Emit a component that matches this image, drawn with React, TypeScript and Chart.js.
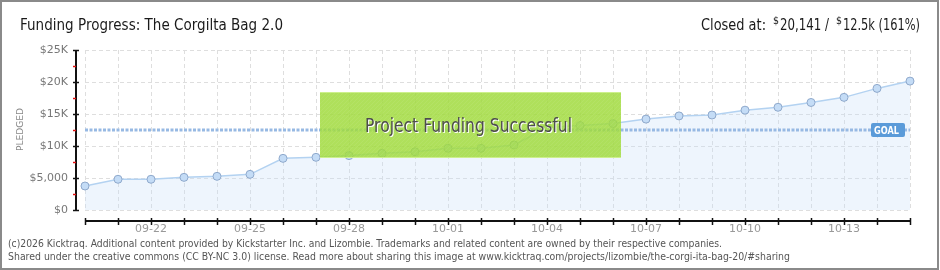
import React, { useEffect, useRef } from 'react';
import { Chart, registerables } from 'chart.js';

Chart.register(...registerables);

// ---- data ----
const dates = [
  '09-20', '09-21', '09-22', '09-23', '09-24', '09-25', '09-26', '09-27', '09-28', '09-29', '09-30',
  '10-01', '10-02', '10-03', '10-04', '10-05', '10-06', '10-07', '10-08', '10-09', '10-10',
  '10-11', '10-12', '10-13', '10-14', '10-15',
];
const pledged = [
  3750, 4800, 4800, 5100, 5260, 5570, 8070, 8230, 8500, 8850, 9100,
  9640, 9640, 10160, 12900, 13200, 13500, 14200, 14700, 14840, 15600,
  16050, 16800, 17600, 19000, 20141,
];
const yTickValues = [0, 5000, 10000, 15000, 20000, 25000];
const yTickLabels = ['$0', '$5,000', '$10K', '$15K', '$20K', '$25K'];
const goal = 12500;
const titleText = 'Funding Progress: The Corgilta Bag 2.0';
const closedLabel = 'Closed at:';
const closedValue = '20,141 /';
const goalValue = '12.5k (161%)';
const successText = 'Project Funding Successful';
const yAxisTitle = 'PLEDGED';
const goalLabel = 'GOAL';
const footer1 =
  '(c)2026 Kicktraq. Additional content provided by Kickstarter Inc. and Lizombie. Trademarks and related content are owned by their respective companies.';
const footer2 =
  'Shared under the creative commons (CC BY-NC 3.0) license. Read more about sharing this image at www.kicktraq.com/projects/lizombie/the-corgi-ita-bag-20/#sharing';

const FONT = '"DejaVu Sans", "Noto Sans", sans-serif';

function fitText(ctx: CanvasRenderingContext2D, text: string, x: number, y: number, w: number) {
  const m = ctx.measureText(text).width;
  const s = m > 0 ? w / m : 1;
  ctx.save();
  ctx.translate(x, y);
  ctx.scale(s, 1);
  ctx.textAlign = 'left';
  ctx.fillText(text, 0, 0);
  ctx.restore();
}

export default function App() {
  const ref = useRef<HTMLCanvasElement>(null);

  useEffect(() => {
    const canvas = ref.current!;

    const bgPlugin = {
      id: 'bg',
      beforeDraw(chart: any) {
        const ctx = chart.ctx as CanvasRenderingContext2D;
        ctx.save();
        ctx.fillStyle = '#ffffff';
        ctx.fillRect(0, 0, chart.width, chart.height);
        ctx.restore();
      },
    };

    const overlay = {
      id: 'overlay',
      afterDraw(chart: any) {
        const ctx = chart.ctx as CanvasRenderingContext2D;
        const ys = chart.scales.y;
        const xs = chart.scales.x;
        const { left, right } = chart.chartArea;
        ctx.save();

        // ---- y axis (offset) ----
        const ax = left - 9;
        const yTop = ys.getPixelForValue(25000);
        const yBot = ys.getPixelForValue(0);
        ctx.strokeStyle = '#111';
        ctx.lineWidth = 2;
        ctx.beginPath();
        ctx.moveTo(ax, yTop);
        ctx.lineTo(ax, yBot);
        ctx.stroke();
        ctx.lineWidth = 1.5;
        for (const v of yTickValues) {
          const py = Math.round(ys.getPixelForValue(v)) + 0.5;
          ctx.beginPath();
          ctx.moveTo(ax - 3, py);
          ctx.lineTo(ax + 3, py);
          ctx.stroke();
        }
        ctx.strokeStyle = '#e01010';
        for (let i = 0; i < yTickValues.length - 1; i++) {
          const v = (yTickValues[i] + yTickValues[i + 1]) / 2;
          const py = Math.round(ys.getPixelForValue(v)) + 0.5;
          ctx.beginPath();
          ctx.moveTo(ax - 3, py);
          ctx.lineTo(ax, py);
          ctx.stroke();
        }

        // ---- x axis (offset) ----
        const ay = yBot + 11;
        ctx.strokeStyle = '#111';
        ctx.lineWidth = 2;
        ctx.beginPath();
        ctx.moveTo(xs.getPixelForValue(0), ay);
        ctx.lineTo(xs.getPixelForValue(dates.length - 1), ay);
        ctx.stroke();
        ctx.lineWidth = 1.5;
        for (let i = 0; i < dates.length; i++) {
          const px = Math.round(xs.getPixelForValue(i)) + 0.5;
          ctx.beginPath();
          ctx.moveTo(px, ay - 3);
          ctx.lineTo(px, ay + 4);
          ctx.stroke();
        }

        // ---- y axis title ----
        ctx.fillStyle = '#888';
        ctx.font = `9px ${FONT}`;
        ctx.save();
        ctx.translate(23, 151);
        ctx.rotate(-Math.PI / 2);
        ctx.textBaseline = 'alphabetic';
        fitText(ctx, yAxisTitle, 0, 0, 43);
        ctx.restore();

        // ---- goal line ----
        const gy = ys.getPixelForValue(goal);
        ctx.strokeStyle = '#97b9e3';
        ctx.lineWidth = 3;
        ctx.setLineDash([3, 1.5]);
        ctx.beginPath();
        ctx.moveTo(left, gy);
        ctx.lineTo(right, gy);
        ctx.stroke();
        ctx.setLineDash([]);

        // goal label
        const gx1 = right - 39;
        const gx2 = right - 5;
        ctx.fillStyle = '#5b9bd9';
        ctx.beginPath();
        (ctx as any).roundRect(gx1, gy - 7, gx2 - gx1, 14, 2);
        ctx.fill();
        ctx.fillStyle = '#ffffff';
        ctx.font = `bold 10px ${FONT}`;
        ctx.textBaseline = 'alphabetic';
        fitText(ctx, goalLabel, gx1 + 3, gy + 4, 25);

        // ---- success box ----
        const bx = 320, by = 92, bw = 301, bh = 66;
        ctx.fillStyle = 'rgba(160,218,60,0.84)';
        ctx.fillRect(bx, by, bw, bh);
        ctx.save();
        ctx.beginPath();
        ctx.rect(bx, by, bw, bh);
        ctx.clip();
        ctx.strokeStyle = 'rgba(255,255,255,0.07)';
        ctx.lineWidth = 1;
        for (let d = -bh; d < bw; d += 4) {
          ctx.beginPath();
          ctx.moveTo(bx + d, by + bh);
          ctx.lineTo(bx + d + bh, by);
          ctx.stroke();
        }
        ctx.restore();
        ctx.strokeStyle = 'rgba(205,240,140,1)';
        ctx.lineWidth = 1;
        ctx.beginPath();
        ctx.moveTo(bx, by + 0.5);
        ctx.lineTo(bx + bw, by + 0.5);
        ctx.moveTo(bx, by + bh - 0.5);
        ctx.lineTo(bx + bw, by + bh - 0.5);
        ctx.stroke();

        ctx.font = `19.5px ${FONT}`;
        ctx.textBaseline = 'alphabetic';
        ctx.fillStyle = '#ffffff';
        fitText(ctx, successText, 366, 133, 207);
        ctx.fillStyle = '#4d4d4d';
        fitText(ctx, successText, 365, 132, 207);

        // ---- titles ----
        ctx.fillStyle = '#1a1a1a';
        ctx.font = `16.5px ${FONT}`;
        fitText(ctx, titleText, 20, 30, 263);
        fitText(ctx, closedLabel, 701, 30, 65);
        fitText(ctx, closedValue, 780, 30, 49);
        fitText(ctx, goalValue, 843, 30, 77);
        ctx.font = `10px ${FONT}`;
        fitText(ctx, '$', 773, 24, 6);
        fitText(ctx, '$', 836, 24, 6);

        // ---- footer ----
        ctx.fillStyle = '#555';
        ctx.font = `10px ${FONT}`;
        fitText(ctx, footer1, 8, 247, 714);
        fitText(ctx, footer2, 8, 260, 782);

        // ---- frame ----
        ctx.strokeStyle = '#8a8a8a';
        ctx.lineWidth = 2;
        ctx.strokeRect(1, 1, chart.width - 3, chart.height - 2);

        ctx.restore();
      },
    };

    const chart = new Chart(canvas, {
      type: 'line',
      data: {
        labels: dates,
        datasets: [
          {
            data: pledged,
            borderColor: '#b3d2f1',
            borderWidth: 1.5,
            backgroundColor: 'rgba(200,222,247,0.3)',
            fill: 'origin',
            pointRadius: 4,
            pointBackgroundColor: '#c4dcf6',
            pointBorderColor: '#8fa9cc',
            pointBorderWidth: 1,
            tension: 0,
          },
        ],
      },
      options: {
        responsive: false,
        animation: false,
        events: [],
        layout: { padding: { top: 50, right: 30, left: 0, bottom: 0 } },
        plugins: { legend: { display: false }, tooltip: { enabled: false } },
        scales: {
          x: {
            type: 'category',
            offset: false,
            afterFit: (s: any) => { s.height = 60; },
            grid: { color: '#dedede', lineWidth: 1, drawTicks: false },
            border: { display: false, dash: [4, 3] },
            ticks: {
              autoSkip: false,
              maxRotation: 0,
              minRotation: 0,
              padding: 13,
              color: '#999',
              font: { family: FONT, size: 11 },
              callback: (_v: any, i: number) => (i % 3 === 2 ? dates[i] : ''),
            },
          },
          y: {
            type: 'linear',
            min: 0,
            max: 25000,
            afterFit: (s: any) => { s.width = 85; },
            afterBuildTicks: (s: any) => { s.ticks = yTickValues.map((v) => ({ value: v })); },
            grid: { color: '#dedede', lineWidth: 1, drawTicks: false },
            border: { display: false, dash: [4, 3] },
            ticks: {
              padding: 17,
              color: '#777',
              font: { family: FONT, size: 11 },
              callback: (v: any) => {
                const idx = yTickValues.indexOf(Number(v));
                return idx >= 0 ? yTickLabels[idx] : '';
              },
            },
          },
        },
      },
      plugins: [bgPlugin, overlay],
    } as any);

    return () => chart.destroy();
  }, []);

  return (
    <div style={{ position: 'absolute', left: 0, top: 0, width: 940, height: 270, background: '#fff' }}>
      <canvas ref={ref} width={940} height={270} style={{ display: 'block', width: 940, height: 270 }} />
    </div>
  );
}
